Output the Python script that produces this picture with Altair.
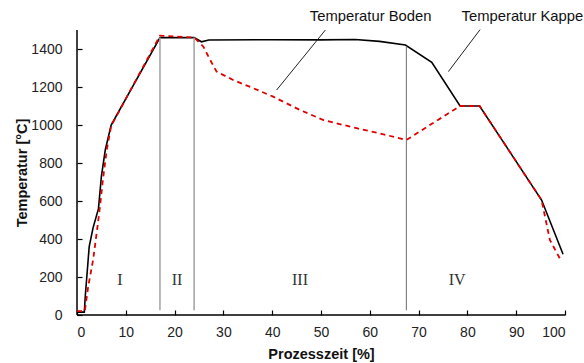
import altair as alt
import pandas as pd

# ---- data ----
kappe_t = [0, 1.5, 1.7, 2.5, 3.3, 4.4, 5.0, 5.8, 7.0, 17, 24, 25.5, 27, 40, 50, 57, 62, 67.3, 72.7, 78.5, 82.5, 95.2, 99.6]
kappe_T = [15, 15, 100, 360, 460, 560, 730, 870, 1000, 1460, 1460, 1438, 1447, 1449, 1448, 1450, 1440, 1421, 1330, 1100, 1100, 605, 320]

boden_t = [0, 1.6, 2.3, 3.3, 4.2, 4.7, 5.3, 6.1, 7.0, 17, 24, 24.2, 25.9, 27.3, 28.6, 32, 36, 40.2, 45.7, 50.5, 57.3, 62, 67.5, 72.7, 78.5, 82.5, 95.2, 96.9, 99.1]
boden_T = [20, 20, 150, 290, 465, 570, 710, 870, 995, 1470, 1460, 1456, 1412, 1342, 1281, 1237, 1195, 1149, 1079, 1026, 983, 956, 921, 1006, 1100, 1100, 605, 395, 290]

phase_t = [17, 24, 67.5]
phase_bottom = [25, 25, 25]
phase_top = [1460, 1460, 1415]
phase_color = ["light", "light", "dark"]

numerals = ["I", "II", "III", "IV"]
numeral_t = [8.8, 20.5, 45.7, 77.9]
numeral_T = [184, 184, 184, 184]

labels = ["Temperatur Boden", "Temperatur Kappe"]
label_t = [47.7, 78.8]
label_T = [1568, 1568]
leader_t1 = [50.9, 82.6]
leader_T1 = [1500, 1502]
leader_t2 = [40.9, 76.1]
leader_T2 = [1184, 1281]

x_ticks = list(range(0, 101, 10))
y_ticks = list(range(0, 1401, 200))
x_domain = [0, 100]
y_domain = [0, 1500]

kappe = pd.DataFrame({"t": kappe_t, "T": kappe_T})
boden = pd.DataFrame({"t": boden_t, "T": boden_T})
phases = pd.DataFrame({"t": phase_t, "b": phase_bottom, "top": phase_top, "c": phase_color})
nums = pd.DataFrame({"n": numerals, "t": numeral_t, "T": numeral_T})
labs = pd.DataFrame({"l": labels, "t": label_t, "T": label_T,
                     "t1": leader_t1, "T1": leader_T1, "t2": leader_t2, "T2": leader_T2})

xs = alt.Scale(domain=x_domain, nice=False)
ys = alt.Scale(domain=y_domain, nice=False)

font = "Liberation Sans"

# axes: ticks point inward (offset -5 with 5px ticks), domain drawn as rules below
x_main = alt.X("t:Q", scale=xs, axis=alt.Axis(
    orient="bottom", values=x_ticks, offset=-5, tickSize=5, tickColor="black", tickWidth=1.2,
    labelPadding=10, grid=False, format="d", domain=False,
    labelFont=font, labelFontSize=14, labelColor="#222",
    title="Prozesszeit [%]", titleFont=font, titleFontSize=14.5, titleFontWeight="bold",
    titleColor="#111", titlePadding=8))
y_main = alt.Y("T:Q", scale=ys, axis=alt.Axis(
    orient="left", values=y_ticks, offset=-5, tickSize=5, tickColor="black", tickWidth=1.2,
    labelPadding=15, grid=False, format="d", domain=False,
    labelFont=font, labelFontSize=14, labelColor="#222",
    title="Temperatur [°C]", titleFont=font, titleFontSize=14.5, titleFontWeight="bold",
    titleColor="#111", titlePadding=1))

kappe_line = alt.Chart(kappe).mark_line(color="black", strokeWidth=1.6).encode(x=x_main, y=y_main)

xn = lambda f: alt.X(f, scale=xs, axis=None)
yn = lambda f: alt.Y(f, scale=ys, axis=None)

x_dom = alt.Chart().mark_rule(color="black", strokeWidth=1.5).encode(
    x=alt.X(datum=x_domain[0], scale=xs, axis=None), x2=alt.datum(x_domain[1]),
    y=alt.Y(datum=y_domain[0], scale=ys, axis=None))
y_dom = alt.Chart().mark_rule(color="black", strokeWidth=1.5).encode(
    y=alt.Y(datum=y_domain[0], scale=ys, axis=None), y2=alt.datum(y_domain[1]),
    x=alt.X(datum=x_domain[0], scale=xs, axis=None))

boden_line = alt.Chart(boden).mark_line(color="#e00000", strokeWidth=1.8, strokeDash=[5, 4]).encode(
    x=xn("t:Q"), y=yn("T:Q"))

phase_rules = alt.Chart(phases).mark_rule().encode(
    x=xn("t:Q"), y=yn("b:Q"), y2="top:Q",
    color=alt.Color("c:N", scale=alt.Scale(domain=["light", "dark"], range=["#a8a8a8", "#7a7a7a"]), legend=None),
    strokeWidth=alt.StrokeWidth("c:N", scale=alt.Scale(domain=["light", "dark"], range=[1.6, 1.1]), legend=None))

num_text = alt.Chart(nums).mark_text(font="Liberation Serif", fontSize=16, color="#333",
                                     baseline="middle", align="center").encode(
    x=xn("t:Q"), y=yn("T:Q"), text="n:N")

leaders = alt.Chart(labs).mark_rule(color="#222", strokeWidth=1, clip=False).encode(
    x=xn("t1:Q"), y=yn("T1:Q"), x2="t2:Q", y2="T2:Q")

lab_text = alt.Chart(labs).mark_text(font=font, fontSize=14.8, color="#111", align="left",
                                     baseline="middle").encode(
    x=xn("t:Q"), y=yn("T:Q"), text="l:N")

chart = alt.layer(kappe_line, phase_rules, x_dom, y_dom, boden_line, num_text, leaders, lab_text).resolve_axis(
    x="independent", y="independent").properties(
    width=488, height=285,
    autosize=alt.AutoSizeParams(type="none"),
    padding={"left": 77, "top": 30, "right": 19, "bottom": 48},
    background="white",
).configure_view(strokeWidth=0)

chart.save("out.html", embed_options={"renderer": "svg", "actions": False})
